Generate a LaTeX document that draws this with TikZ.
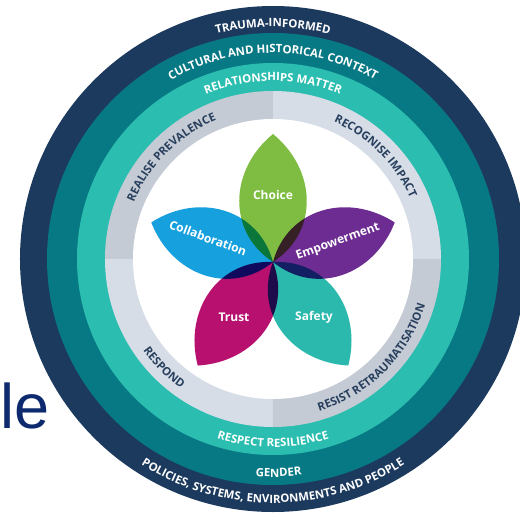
\documentclass[tikz,border=0pt]{standalone}
\usepackage{fontspec}
\setmainfont{Open Sans}
\newfontfamily\titlefamily{Liberation Sans}
\usetikzlibrary{decorations.text}

\definecolor{navy}{HTML}{1C3A5E}
\definecolor{deepteal}{HTML}{077984}
\definecolor{lightteal}{HTML}{2BBEB0}
\definecolor{graydark}{HTML}{C5CBD5}
\definecolor{graylight}{HTML}{D6DDE7}
\definecolor{ringink}{HTML}{28405E}
\definecolor{petalgreen}{HTML}{7EBD42}
\definecolor{petalblue}{HTML}{17A0DE}
\definecolor{petalpurple}{HTML}{6C2C91}
\definecolor{petalmagenta}{HTML}{B7106E}
\definecolor{petalteal}{HTML}{2BB8AD}
\definecolor{titleblue}{HTML}{0E2A6E}

\newcommand\ringfont{\bfseries\fontsize{11.4pt}{13pt}\selectfont}
\newcommand\petalfont{\bfseries\fontsize{12pt}{14pt}\selectfont}

\begin{document}
\begin{tikzpicture}[x=1pt,y=1pt,
  ringtext/.style={decorate, decoration={text along path, text align=center,
      text color=white, text={|\ringfont|#1}}},
  graytext/.style={decorate, decoration={text along path, text align=center,
      text color=ringink, text={|\ringfont|#1}}},
  petalshape/.style={fill=#1, blend mode=multiply},
  petallabel/.style={text=white, font=\petalfont, inner sep=0pt}]
\useasboundingbox (-273,-253) rectangle (247,259);
\clip (-273,-253) rectangle (247,259);

% fragment of a slide title on the left
\node[anchor=base west, inner sep=0pt, text=titleblue,
      font=\titlefamily\fontsize{63pt}{70pt}\selectfont] (title) at (-273,-169) {le};

% concentric rings
\fill[navy] (0,0) circle[radius=253pt];
\fill[deepteal] (0,0) circle[radius=226pt];
\fill[lightteal] (0,0) circle[radius=196pt];
\fill[graylight] (0,0) -- (0:168) arc[start angle=0,end angle=90,radius=168pt] -- cycle;
\fill[graydark] (0,0) -- (90:168) arc[start angle=90,end angle=180,radius=168pt] -- cycle;
\fill[graylight] (0,0) -- (180:168) arc[start angle=180,end angle=270,radius=168pt] -- cycle;
\fill[graydark] (0,0) -- (270:168) arc[start angle=270,end angle=360,radius=168pt] -- cycle;
\fill[white] (0,0) circle[radius=140pt];

% ring labels, upper half read clockwise, lower half counter-clockwise
\path[ringtext={TRAUMA-INFORMED}] (160:232) arc[start angle=160,end angle=20,radius=232pt];
\path[ringtext={CULTURAL AND HISTORICAL CONTEXT}] (170:206) arc[start angle=170,end angle=10,radius=206pt];
\path[ringtext={RELATIONSHIPS MATTER}] (160:178) arc[start angle=160,end angle=20,radius=178pt];
\path[graytext={REALISE PREVALENCE}] (180:150) arc[start angle=180,end angle=90,radius=150pt];
\path[graytext={RECOGNISE IMPACT}] (90:150) arc[start angle=90,end angle=0,radius=150pt];
\path[graytext={RESPOND}] (180:159) arc[start angle=180,end angle=270,radius=159pt];
\path[graytext={RESIST RETRAUMATISATION}] (270:159) arc[start angle=270,end angle=360,radius=159pt];
\path[ringtext={RESPECT RESILIENCE}] (200:188) arc[start angle=200,end angle=340,radius=188pt];
\path[ringtext={GENDER}] (221.5:218) arc[start angle=221.5,end angle=321.5,radius=218pt];
\path[ringtext={POLICIES, SYSTEMS, ENVIRONMENTS AND PEOPLE}] (195:244) arc[start angle=195,end angle=345,radius=244pt];

% five petals
\begin{scope}[shift={(0,-3)}]
  \foreach \ang/\col in {90/petalgreen, 162/petalblue, 18/petalpurple,
                         234/petalmagenta, 306/petalteal}
    \fill[petalshape=\col, rotate=\ang]
      (0,0) .. controls (30,46) and (92,44) .. (128,0)
            .. controls (92,-44) and (30,-46) .. (0,0) -- cycle;
\end{scope}

\node[petallabel] (choice) at (0,64) {Choice};
\node[petallabel, rotate=-20] (collab) at (-65,21) {Collaboration};
\node[petallabel, rotate=20] (empower) at (65,17) {Empowerment};
\node[petallabel] (trust) at (-39,-58) {Trust};
\node[petallabel] (safety) at (41,-58) {Safety};
\end{tikzpicture}
\end{document}
